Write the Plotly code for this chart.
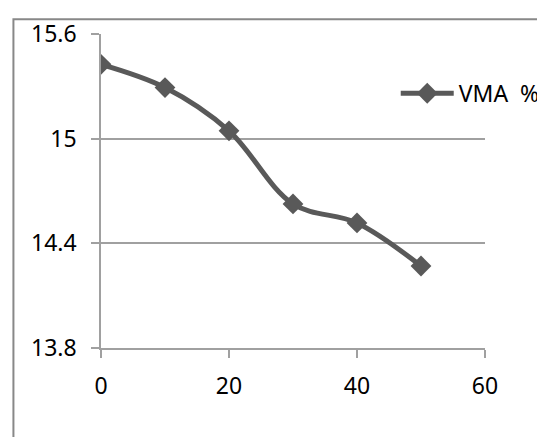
import plotly.graph_objects as go

x_values = [0, 10, 20, 30, 40, 50]
vma_values = [15.426, 15.293, 15.045, 14.626, 14.517, 14.27]
series_name = "VMA\u00a0\u00a0%"
x_ticks = [0, 20, 40, 60]
y_ticks = [13.8, 14.4, 15.0, 15.6]
y_tick_labels = ["13.8", "14.4", "15", "15.6"]

line_color = "#595959"
axis_color = "#a0a0a0"
font_family = "Noto Sans, Open Sans, sans-serif"

L, R, T, B = 92.5, 67.5, 25.5, 96.5
W, H = 545, 437
pw, ph = W - L - R, H - T - B

fig = go.Figure()
fig.add_trace(go.Scatter(
    x=x_values, y=vma_values, name=series_name,
    mode="lines+markers",
    line=dict(color=line_color, width=5, shape="spline", smoothing=1.0),
    marker=dict(symbol="diamond", size=16, color=line_color),
))

fig.update_layout(
    width=W, height=H,
    margin=dict(l=L, r=R, t=T, b=B, autoexpand=False),
    paper_bgcolor="white", plot_bgcolor="white",
    font=dict(family=font_family, size=23, color="black"),
    showlegend=True,
    legend=dict(x=(388 - L) / pw, y=(H - B - 85) / ph, xanchor="left", yanchor="middle",
                bgcolor="rgba(0,0,0,0)", font=dict(size=23),
                itemwidth=53),
    xaxis=dict(range=[0, 60], tickvals=x_ticks, showgrid=False,
               showline=True, linecolor=axis_color, linewidth=1.5,
               ticks="outside", ticklen=8, tickcolor=axis_color, tickwidth=1.5,
               zeroline=False, fixedrange=True, ticklabelstandoff=9),
    yaxis=dict(range=[13.8, 15.6], tickvals=y_ticks, ticktext=y_tick_labels,
               showgrid=True, gridcolor=axis_color, gridwidth=1.5,
               showline=True, linecolor=axis_color, linewidth=1.5,
               ticks="outside", ticklen=8, tickcolor=axis_color, tickwidth=1.5,
               zeroline=False, fixedrange=True, ticklabelstandoff=10),
    shapes=[dict(type="rect", xref="paper", yref="paper",
                 x0=(4.7 - L) / pw, x1=1.5, y0=-0.5, y1=(H - B - 10.7) / ph,
                 line=dict(color="#888888", width=2), layer="below")],
)

fig.write_html("out.html")
